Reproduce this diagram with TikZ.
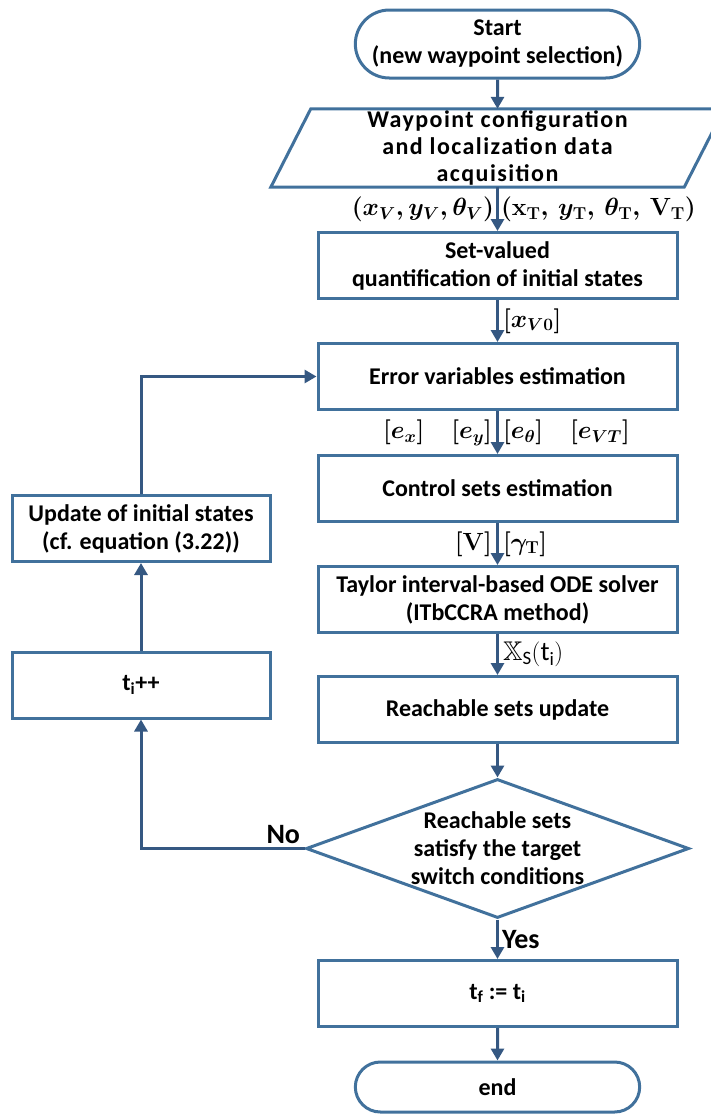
\documentclass[tikz,border=0pt]{standalone}
\usepackage{amsmath,amssymb,bm}
\usepackage{fontspec}
\setmainfont{Carlito}
\usetikzlibrary{arrows.meta,shapes.geometric,shapes.misc}
\definecolor{boxline}{RGB}{65,113,156}
\definecolor{arrline}{RGB}{53,88,130}
\tikzset{
  txt/.style={text=black,font=\fontsize{24}{28}\selectfont\bfseries},
  lbl/.style={text=black,font=\fontsize{27}{30}\selectfont\boldmath,inner sep=4pt},
  word/.style={text=black,font=\fontsize{28}{30}\selectfont\bfseries,inner sep=3pt},
  box/.style={txt,draw=boxline,line width=3pt,align=center,minimum width=359pt,minimum height=66pt},
  term/.style={box,rounded rectangle,rounded rectangle arc length=180,minimum width=291pt},
  dec/.style={txt,draw=boxline,line width=3pt,align=center,diamond,aspect=2.75,minimum width=383pt,minimum height=139pt,inner sep=-6pt},
  arr/.style={arrline,line width=3pt,-{Triangle[length=12pt,width=13pt]}}
}
\begin{document}
\begin{tikzpicture}[x=1pt,y=-1pt]
\useasboundingbox (0,0) rectangle (711,1114);

\node[term,minimum height=68pt] (start) at (497.5,44) {Start\\(new waypoint selection)};
\node[txt,font=\fontsize{24}{27}\selectfont\bfseries\addfontfeature{LetterSpace=6},align=center,inner sep=0pt,minimum width=413pt,minimum height=78pt] (acq) at (497.5,148) {Waypoint configuration\\and localization data\\acquisition};
\draw[boxline,line width=3pt] ([xshift=20pt]acq.north west) -- ([xshift=20pt]acq.north east) -- ([xshift=-20pt]acq.south east) -- ([xshift=-20pt]acq.south west) -- cycle;
\node[box] (setq) at (497.5,265.5) {Set-valued\\quantification of initial states};
\node[box] (err) at (497.5,376.5) {Error variables estimation};
\node[box] (ctrl) at (497.5,488.5) {Control sets estimation};
\node[box] (taylor) at (497.5,599.5) {Taylor interval-based ODE solver\\(ITbCCRA method)};
\node[box] (reach) at (497.5,709.5) {Reachable sets update};
\node[dec] (cond) at (497.5,848.5) {Reachable sets\\satisfy the target\\switch conditions};
\node[box] (tf) at (497.5,993.5) {$\mathbf{t_f}$ := $\mathbf{t_i}$};
\node[term,minimum height=50pt] (stop) at (497.5,1087) {end};

\node[box,minimum width=258pt] (upd) at (141,528.5) {Update of initial states\\(cf. equation (3.22))};
\node[box,minimum width=258pt] (inc) at (141,685) {$\mathbf{t_i}$++};

\draw[arr] (start) -- (acq);
\draw[arr] (acq) -- (setq) node[midway,left,lbl,inner sep=2pt] {$(x_V, y_V, \theta_V)$} node[midway,right,lbl,inner sep=2pt] {$(\mathbf{x_T},\,y_{\mathbf T},\,\theta_{\mathbf T},\,\mathbf{V_T})$};
\draw[arr] (setq) -- (err) node[midway,right,lbl] {$[x_{V0}]$};
\draw[arr] (err) -- (ctrl) node[midway,left,lbl] {$[e_x]\quad[e_y]$} node[midway,right,lbl] {$[e_\theta]\quad[e_{VT}]$};
\draw[arr] (ctrl) -- (taylor) node[midway,left,lbl] {$\mathbf{[V]}$} node[midway,right,lbl] {$[\gamma_{\mathbf T}]$};
\draw[arr] (taylor) -- (reach) node[midway,right,lbl,font=\fontsize{27}{30}\selectfont\unboldmath] {$\mathbb{X}_{\mathrm{S}}(\mathrm{t_i})$};
\draw[arr] (reach) -- (cond);
\draw[arr] (cond) -- (tf) node[midway,right,word] {Yes};
\draw[arr] (tf) -- (stop);
\draw[arr] (cond.west) node[above left,word] {No} -| (inc.south);
\draw[arr] (inc) -- (upd);
\draw[arr] (upd.north) |- (err.west);
\end{tikzpicture}
\end{document}
